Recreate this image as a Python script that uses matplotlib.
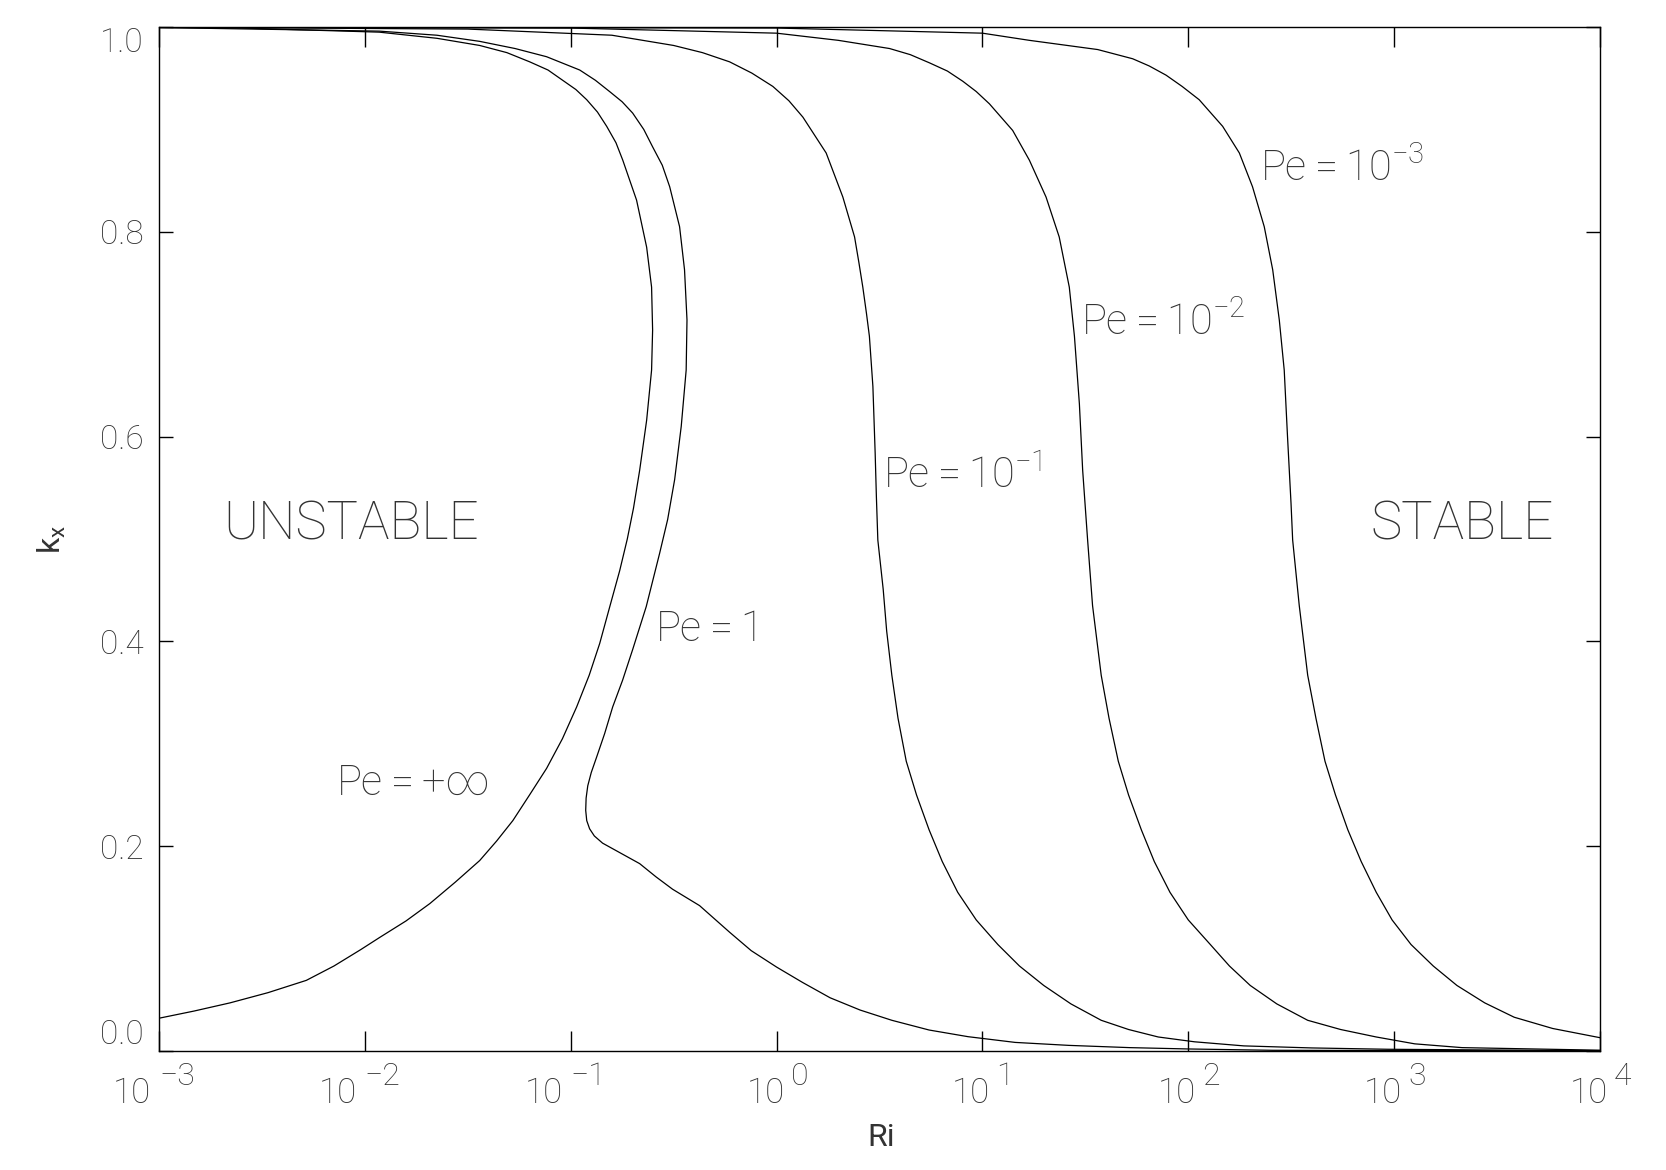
import matplotlib.pyplot as plt
from matplotlib.ticker import FormatStrFormatter, NullLocator

plt.rcParams['font.family'] = ['Roboto', 'DejaVu Sans']
plt.rcParams['font.weight'] = 'light'
plt.rcParams['mathtext.default'] = 'regular'

# values: k_x and log10(Ri) along each marginal curve
k_inf = [0.032, 0.039, 0.047, 0.057, 0.069, 0.083, 0.099, 0.111, 0.127, 0.144, 0.165,
         0.186, 0.205, 0.225, 0.25, 0.276, 0.305, 0.336, 0.367, 0.398, 0.434, 0.469,
         0.50, 0.53, 0.567, 0.616, 0.665, 0.704, 0.746, 0.785, 0.831, 0.870, 0.887,
         0.903, 0.917, 0.929, 0.939, 0.948, 0.958, 0.966, 0.975, 0.982, 0.989, 0.995,
         0.999, 0.9995]
lri_inf = [-3.0, -2.83, -2.655, -2.47, -2.284, -2.15, -2.02, -1.927, -1.80, -1.684, -1.56,
           -1.442, -1.36, -1.281, -1.2, -1.117, -1.04, -0.971, -0.91, -0.859, -0.81, -0.762,
           -0.725, -0.695, -0.665, -0.631, -0.607, -0.602, -0.607, -0.631, -0.680, -0.747, -0.78,
           -0.825, -0.87, -0.922, -0.975, -1.039, -1.11, -1.199, -1.31, -1.442, -1.65, -1.93,
           -2.6, -3.0]

k_pe1 = [0.0001, 0.0007, 0.002, 0.0033, 0.0055, 0.0084, 0.014, 0.0205, 0.030, 0.040, 0.052,
         0.067, 0.082, 0.098, 0.116, 0.142, 0.158, 0.170, 0.183, 0.203, 0.210, 0.217, 0.225,
         0.235, 0.247, 0.259, 0.272, 0.287, 0.31, 0.336, 0.362, 0.392, 0.434, 0.486, 0.519,
         0.558, 0.610, 0.665, 0.714, 0.763, 0.805, 0.844, 0.865, 0.883, 0.90, 0.916, 0.927,
         0.937, 0.948, 0.958, 0.971, 0.979, 0.986, 0.992, 0.996, 0.9995]
lri_pe1 = [4.0, 2.41, 2.0, 1.716, 1.42, 1.159, 0.93, 0.741, 0.56, 0.406, 0.26,
           0.126, 0.0, -0.123, -0.228, -0.374, -0.505, -0.585, -0.665, -0.845, -0.885, -0.908, -0.922,
           -0.927, -0.925, -0.917, -0.9, -0.874, -0.835, -0.796, -0.748, -0.699, -0.633, -0.568, -0.529,
           -0.495, -0.463, -0.439, -0.435, -0.447, -0.471, -0.519, -0.555, -0.602, -0.645, -0.699, -0.75,
           -0.811, -0.88, -0.956, -1.117, -1.27, -1.442, -1.65, -1.93, -3.0]

k_pe01 = [0.0003, 0.0017, 0.003, 0.005, 0.009, 0.0137, 0.021, 0.030, 0.046, 0.064, 0.083,
          0.104, 0.128, 0.155, 0.185, 0.216, 0.25, 0.283, 0.325, 0.367, 0.41, 0.451, 0.499,
          0.541, 0.584, 0.649, 0.698, 0.72, 0.746, 0.77, 0.795, 0.834, 0.877, 0.912, 0.928,
          0.942, 0.955, 0.966, 0.975, 0.982, 0.992, 0.998, 0.9998]
lri_pe01 = [4.0, 2.97, 2.6, 2.27, 2.03, 1.854, 1.71, 1.577, 1.43, 1.298, 1.18,
            1.075, 0.97, 0.880, 0.805, 0.741, 0.68, 0.630, 0.59, 0.560, 0.535, 0.518, 0.492,
            0.485, 0.479, 0.468, 0.451, 0.437, 0.419, 0.40, 0.379, 0.322, 0.241, 0.128, 0.06,
            -0.018, -0.12, -0.228, -0.36, -0.5, -0.8, -1.5, -3.0]

k_pe001 = [0.0008, 0.0033, 0.007, 0.0137, 0.021, 0.030, 0.046, 0.064, 0.083, 0.104, 0.128,
           0.155, 0.185, 0.216, 0.25, 0.283, 0.325, 0.367, 0.435, 0.499, 0.567, 0.632, 0.698,
           0.746, 0.795, 0.834, 0.870, 0.899, 0.925, 0.937, 0.947, 0.957, 0.965, 0.973, 0.979,
           0.987, 0.994, 0.999, 0.9999]
lri_pe001 = [4.0, 3.33, 3.1, 2.913, 2.74, 2.58, 2.43, 2.301, 2.2, 2.107, 2.0,
             1.911, 1.835, 1.772, 1.71, 1.660, 1.615, 1.577, 1.535, 1.511, 1.487, 1.471, 1.447,
             1.422, 1.373, 1.309, 1.228, 1.147, 1.034, 0.97, 0.905, 0.83, 0.743, 0.65, 0.549,
             0.3, 0.0, -1.0, -3.0]

k_pe0001 = [0.013, 0.022, 0.033, 0.047, 0.064, 0.083, 0.104, 0.128, 0.155, 0.185, 0.216,
            0.25, 0.283, 0.325, 0.367, 0.435, 0.499, 0.535, 0.600, 0.665, 0.714, 0.763, 0.805,
            0.844, 0.877, 0.903, 0.929, 0.942, 0.953, 0.962, 0.969, 0.978, 0.987, 0.994,
            0.999, 0.9999]
lri_pe0001 = [4.0, 3.77, 3.583, 3.44, 3.305, 3.19, 3.082, 2.99, 2.913, 2.84, 2.775,
              2.715, 2.664, 2.62, 2.58, 2.539, 2.507, 2.499, 2.482, 2.466, 2.442, 2.410, 2.369,
              2.312, 2.248, 2.167, 2.053, 1.97, 1.892, 1.81, 1.730, 1.56, 1.228, 1.0,
              0.0, -3.0]

curves = [(k_inf, lri_inf), (k_pe1, lri_pe1), (k_pe01, lri_pe01),
          (k_pe001, lri_pe001), (k_pe0001, lri_pe0001)]

# curve labels: text, log10(Ri), k_x of the baseline
label_texts = [r'Pe$=+\infty$', r'Pe$=1$', r'Pe$=10^{-1}$', r'Pe$=10^{-2}$', r'Pe$=10^{-3}$']
label_lri = [-2.142, -0.592, 0.516, 1.481, 2.35]
label_k = [0.25, 0.400, 0.5495, 0.699, 0.850]

decades = [-3, -2, -1, 0, 1, 2, 3, 4]
yticks = [0.0, 0.2, 0.4, 0.6, 0.8, 1.0]

tc = '#333333'

fig = plt.figure(figsize=(16.66, 11.70), dpi=100)
ax = fig.add_axes([0.0954, 0.1017, 0.8650, 0.8752])

for k, lri in curves:
    ax.plot([10.0 ** v for v in lri], k, color='black', lw=0.9)

for txt, lx, ly in zip(label_texts, label_lri, label_k):
    ax.text(10.0 ** lx, ly, txt, fontsize=30, color=tc, ha='left', va='baseline')

ax.text(10.0 ** -2.689, 0.5, 'UNSTABLE', fontsize=38, color=tc, ha='left', va='baseline')
ax.text(10.0 ** 2.887, 0.5, 'STABLE', fontsize=38, color=tc, ha='left', va='baseline')

ax.set_xscale('log')
ax.set_xlim(1e-3, 1e4)
ax.set_ylim(0, 1.0)

ax.set_xticks([10.0 ** e for e in decades])
ax.set_xticklabels([])
ax.xaxis.set_minor_locator(NullLocator())
ax.set_yticks(yticks)
ax.yaxis.set_major_formatter(FormatStrFormatter('%.1f'))

ax.tick_params(which='major', direction='in', top=True, right=True, width=1, color='black')
ax.tick_params(axis='x', length=14.4)
ax.tick_params(axis='y', length=10, labelsize=24, pad=11, labelcolor=tc)
ylabels = ax.get_yticklabels()
ylabels[0].set_va('bottom')
ylabels[-1].set_va('top')

# x tick labels in the style 10 with a big exponent
for e in decades:
    if e < 0:
        off10, offexp = -8, 0
    else:
        off10, offexp = 8, 14
    ax.annotate('10', xy=(10.0 ** e, 0), xycoords=('data', 'axes fraction'),
                xytext=(off10, -52), textcoords='offset pixels',
                ha='right', va='baseline', fontsize=25, color=tc)
    ax.annotate(str(e).replace('-', '\u2212'), xy=(10.0 ** e, 0), xycoords=('data', 'axes fraction'),
                xytext=(offexp, -34), textcoords='offset pixels',
                ha='left', va='baseline', fontsize=23, color=tc)

for s in ax.spines.values():
    s.set_linewidth(1.0)

ax.set_xlabel('Ri', fontsize=23, color=tc)
ax.xaxis.set_label_coords(0.501, -0.070)
ax.set_ylabel('$k_x$', fontsize=23, color=tc)
ax.yaxis.set_label_coords(-0.063, 0.5)

fig.savefig('out.png', dpi=100)
